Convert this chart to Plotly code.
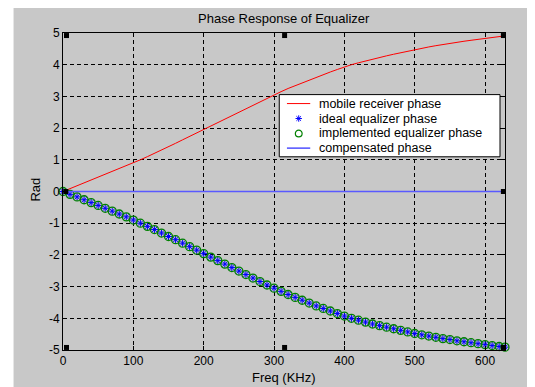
import plotly.graph_objects as go

# ---- data ----
freq_khz = [0, 10, 20, 30, 40, 50, 60, 70, 80, 90,
            100, 110, 120, 130, 140, 150, 160, 170, 180, 190,
            200, 210, 220, 230, 240, 250, 260, 270, 280, 290,
            300, 310, 320, 330, 340, 350, 360, 370, 380, 390,
            400, 410, 420, 430, 440, 450, 460, 470, 480, 490,
            500, 510, 520, 530, 540, 550, 560, 570, 580, 590,
            600, 610, 620, 628.3]

receiver_phase = [0.00, 0.09, 0.17, 0.26, 0.35, 0.44, 0.53, 0.62, 0.71, 0.80,
                  0.90, 1.00, 1.10, 1.20, 1.31, 1.42, 1.52, 1.63, 1.74, 1.85,
                  1.96, 2.07, 2.18, 2.29, 2.40, 2.51, 2.62, 2.73, 2.84, 2.95,
                  3.05, 3.15, 3.25, 3.34, 3.43, 3.52, 3.61, 3.69, 3.77, 3.85,
                  3.93, 4.00, 4.06, 4.12, 4.18, 4.23, 4.28, 4.33, 4.38, 4.43,
                  4.48, 4.52, 4.56, 4.60, 4.64, 4.67, 4.71, 4.74, 4.77, 4.80,
                  4.83, 4.86, 4.89, 4.91]

ideal_eq_phase = [-0.00, -0.09, -0.17, -0.26, -0.35, -0.44, -0.53, -0.62, -0.71, -0.80,
                  -0.90, -1.00, -1.10, -1.20, -1.31, -1.42, -1.52, -1.63, -1.74, -1.85,
                  -1.96, -2.07, -2.18, -2.29, -2.40, -2.51, -2.62, -2.73, -2.84, -2.95,
                  -3.05, -3.15, -3.25, -3.34, -3.43, -3.52, -3.61, -3.69, -3.77, -3.85,
                  -3.93, -4.00, -4.06, -4.12, -4.18, -4.23, -4.28, -4.33, -4.38, -4.43,
                  -4.48, -4.52, -4.56, -4.60, -4.64, -4.67, -4.71, -4.74, -4.77, -4.80,
                  -4.83, -4.86, -4.89, -4.91]

implemented_eq_phase = list(ideal_eq_phase)
compensated_phase = [0.0] * len(freq_khz)

# small black square markers visible in the plot
ref_marker_freq = [5, 315, 626, 5, 315, 626, 4, 626]
ref_marker_value = [4.92, 4.92, 4.92, -4.92, -4.92, -4.92, 0, 0]

x_ticks = [0, 100, 200, 300, 400, 500, 600]
x_tick_text = ["0", "100", "200", "300", "400", "500", "600"]
y_ticks = [-5, -4, -3, -2, -1, 0, 1, 2, 3, 4, 5]
y_tick_text = ["-5", "-4", "-3", "-2", "-1", "0", "1", "2", "3", "4", "5"]

legend_labels = ["mobile receiver phase", "ideal equalizer phase",
                 "implemented equalizer phase", "compensated phase"]

RED = "#ff0000"
BLUE_MARK = "#0000ff"
GREEN = "#008000"
BLUE_LINE = "#5a5aff"

FONT = "Liberation Sans, Arial, sans-serif"
OFF = 8                      # page body margin of the html page
W, H = 535 - OFF, 387 - OFF  # figure size
ML, MR, MT, MB = 54.5, 30, 24.5, 36.5
pw, ph = W - ML - MR, H - MT - MB


def px(xp):   # page pixel x -> paper
    return (xp - OFF - ML) / pw


def py(yp):   # page pixel y -> paper
    return (H - (yp - OFF) - MB) / ph


fig = go.Figure()
fig.add_trace(go.Scatter(x=freq_khz, y=receiver_phase, mode="lines",
                         name=legend_labels[0], showlegend=False,
                         line=dict(color=RED, width=1)))
fig.add_trace(go.Scatter(x=freq_khz, y=ideal_eq_phase, mode="markers",
                         name=legend_labels[1], cliponaxis=False, showlegend=False,
                         marker=dict(symbol="asterisk-open", size=6, color=BLUE_MARK,
                                     line=dict(color=BLUE_MARK, width=1))))
fig.add_trace(go.Scatter(x=freq_khz, y=implemented_eq_phase, mode="markers",
                         name=legend_labels[2], cliponaxis=False, showlegend=False,
                         marker=dict(symbol="circle-open", size=8, color=GREEN,
                                     line=dict(color=GREEN, width=1.3))))
fig.add_trace(go.Scatter(x=freq_khz, y=compensated_phase, mode="lines",
                         name=legend_labels[3], showlegend=False,
                         line=dict(color=BLUE_LINE, width=1.6)))
fig.add_trace(go.Scatter(x=ref_marker_freq, y=ref_marker_value, mode="markers",
                         showlegend=False, cliponaxis=False, hoverinfo="skip",
                         marker=dict(symbol="square", size=5, color="#000000",
                                     line=dict(width=0))))

axis_common = dict(showline=True, linecolor="#000000", linewidth=1, mirror="ticks",
                   ticks="inside", ticklen=4, tickcolor="#000000",
                   showgrid=True, gridcolor="#000000", gridwidth=1,
                   griddash="4px,3px", zeroline=False,
                   tickfont=dict(family=FONT, size=12, color="#000000"))

fig.update_xaxes(range=[0, 628.3], tickvals=x_ticks, ticktext=x_tick_text, **axis_common)
fig.update_yaxes(range=[-5, 5], tickvals=y_ticks, ticktext=y_tick_text, **axis_common)

shapes = []
# gray figure area (thin white strip on the left and top)
shapes.append(dict(type="rect", xref="paper", yref="paper", layer="below",
                   x0=px(13), x1=px(545), y0=py(400), y1=py(6),
                   fillcolor="#c8c8c8", line=dict(width=0)))

# ---- custom legend (MATLAB-style compact box) ----
shapes.append(dict(type="rect", xref="paper", yref="paper", layer="above",
                   x0=px(279), x1=px(500), y0=py(156.7), y1=py(94.3),
                   fillcolor="#ffffff", line=dict(color="#000000", width=1)))
row_y = [103.3, 118.3, 133.3, 148.0]
sx0, sx1, sxc = 286.7, 310.0, 298.5
shapes.append(dict(type="line", xref="paper", yref="paper", layer="above",
                   x0=px(sx0), x1=px(sx1), y0=py(row_y[0]), y1=py(row_y[0]),
                   line=dict(color=RED, width=1)))
shapes.append(dict(type="line", xref="paper", yref="paper", layer="above",
                   x0=px(sx0), x1=px(sx1), y0=py(row_y[3]), y1=py(row_y[3]),
                   line=dict(color=BLUE_LINE, width=1.6)))
r = 3.2
for dx, dy in [(r, 0), (0, r), (r * 0.72, r * 0.72), (r * 0.72, -r * 0.72)]:
    shapes.append(dict(type="line", xref="paper", yref="paper", layer="above",
                       x0=px(sxc - dx), x1=px(sxc + dx),
                       y0=py(row_y[1] - dy), y1=py(row_y[1] + dy),
                       line=dict(color=BLUE_MARK, width=1)))
rc = 3.4
shapes.append(dict(type="circle", xref="paper", yref="paper", layer="above",
                   x0=px(sxc - rc), x1=px(sxc + rc),
                   y0=py(row_y[2] + rc), y1=py(row_y[2] - rc),
                   line=dict(color=GREEN, width=1.2)))

annotations = []
for lbl, yy in zip(legend_labels, row_y):
    annotations.append(dict(text=lbl, xref="paper", yref="paper",
                            x=px(317), y=py(yy), xanchor="left", yanchor="middle",
                            showarrow=False,
                            font=dict(family=FONT, size=12.5, color="#000000")))

# axis titles
annotations.append(dict(text="Freq (KHz)", xref="paper", yref="paper",
                        x=px(283.5), y=py(378), xanchor="center", yanchor="middle",
                        showarrow=False, font=dict(family=FONT, size=13, color="#000000")))
annotations.append(dict(text="Rad", xref="paper", yref="paper", textangle=-90,
                        x=px(34), y=py(190), xanchor="center", yanchor="middle",
                        showarrow=False, font=dict(family=FONT, size=13, color="#000000")))

fig.update_layout(
    width=W, height=H,
    margin=dict(l=ML, r=MR, t=MT, b=MB, autoexpand=False),
    paper_bgcolor="#ffffff", plot_bgcolor="#ffffff",
    title=dict(text="Phase Response of Equalizer", x=px(283.5), xref="paper",
               xanchor="center", y=1 - (18 - OFF) / H, yanchor="middle",
               font=dict(family=FONT, size=13, color="#000000")),
    shapes=shapes, annotations=annotations,
    showlegend=False,
)

fig.write_html("out.html")
